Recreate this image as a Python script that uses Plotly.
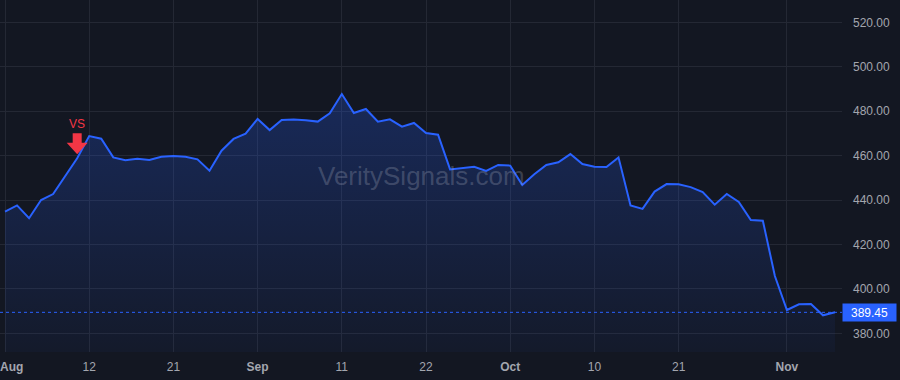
import pandas as pd
import plotly.graph_objects as go

# ---- data ----
dates = [d.strftime("%Y-%m-%d") for d in pd.bdate_range("2025-08-01", "2025-11-07")
         if d.strftime("%Y-%m-%d") != "2025-09-01"]  # trading days (Labor Day closed)

closes = [
    434.8, 437.6, 431.8, 440.0, 442.7, 451.0, 458.8, 468.8, 467.6, 459.2,
    457.9, 458.6, 458.0, 459.5, 459.8, 459.5, 458.3, 453.2, 462.2, 467.5,
    469.9, 476.5, 471.5, 476.0, 476.3, 475.9, 475.3, 479.0, 487.7, 479.2,
    481.0, 475.3, 476.3, 473.0, 474.7, 470.2, 469.4, 453.8, 454.3, 455.0,
    453.1, 455.8, 455.5, 446.8, 451.6, 455.8, 457.0, 460.7, 456.2, 455.0,
    454.9, 459.2, 437.6, 436.0, 443.8, 447.2, 447.1, 445.8, 443.6, 437.9,
    442.7, 439.1, 431.0, 430.7, 405.8, 390.5, 393.1, 393.2, 388.1, 389.45,
]

x_tick_dates = ["2025-08-01", "2025-08-12", "2025-08-21", "2025-09-02", "2025-09-11",
                "2025-09-22", "2025-10-01", "2025-10-10", "2025-10-21", "2025-11-03"]
x_tick_text = ["\u00a0\u00a0\u00a0\u00a0<b>Aug</b>", "12", "21", "<b>Sep</b>", "11",
               "22", "<b>Oct</b>", "10", "21", "<b>Nov</b>"]

y_ticks = [380, 400, 420, 440, 460, 480, 500, 520]

signal_date = "2025-08-11"
signal_label = "VS"
last_price = closes[-1]
watermark = "VeritySignals.com"

# ---- styling ----
BG = "#131722"
GRID = "#242834"
LINE = "#2962ff"
TXT = "#a3a6af"
RED = "#f23645"
FONT = "Liberation Sans, Arial, sans-serif"

signal_value = closes[dates.index(signal_date)]

fig = go.Figure()
fig.add_trace(go.Scatter(
    x=dates, y=closes, mode="lines",
    line=dict(color=LINE, width=2),
    fill="tozeroy",
    fillgradient=dict(type="vertical", start=371.6, stop=max(closes),
                      colorscale=[[0, "rgba(41,98,255,0.04)"], [1, "rgba(41,98,255,0.25)"]]),
    hoverinfo="skip", showlegend=False,
))

fig.update_layout(
    width=900, height=380,
    margin=dict(l=0, r=58, t=0, b=28, autoexpand=False),
    paper_bgcolor=BG, plot_bgcolor=BG,
    font=dict(family=FONT, size=12, color=TXT),
    showlegend=False,
    xaxis=dict(
        type="category", range=[-0.416, 69.58], automargin=False,
        tickmode="array", tickvals=x_tick_dates, ticktext=x_tick_text,
        showgrid=True, gridcolor=GRID, gridwidth=1,
        zeroline=False, showline=False, ticks="",
        ticklabelstandoff=6, tickfont=dict(size=12, color=TXT),
    ),
    yaxis=dict(
        side="right", range=[371.6, 530.04], automargin=False,
        tickmode="array", tickvals=y_ticks, tickformat=".2f",
        showgrid=True, gridcolor=GRID, gridwidth=1,
        zeroline=False, showline=False, ticks="",
        ticklabelstandoff=10, tickfont=dict(size=12, color=TXT),
    ),
)

# last price dotted line
fig.add_shape(type="line", xref="paper", x0=0, x1=1, yref="y", y0=last_price, y1=last_price,
              line=dict(color=LINE, width=1, dash="3px,3px"), layer="above")

# last price label
fig.add_annotation(x=1, xref="paper", xanchor="left", y=last_price, yref="y", yanchor="middle",
                   text=f"{last_price:.2f}", showarrow=False, bgcolor=LINE,
                   font=dict(color="#ffffff", size=12, family=FONT),
                   width=49, height=13, borderpad=2, align="center")

# signal arrow
fig.add_shape(type="path", xref="x", yref="y", xsizemode="pixel", ysizemode="pixel",
              xanchor=signal_date, yanchor=signal_value,
              path="M -4.5,25 L 4.5,25 L 4.5,15.5 L 10.5,15.5 L 0,4 L -10.5,15.5 L -4.5,15.5 Z",
              fillcolor=RED, line=dict(width=0), layer="above")
fig.add_annotation(x=signal_date, y=signal_value, yshift=34, text=signal_label, showarrow=False,
                   font=dict(color=RED, size=12, family=FONT), yanchor="middle")

# watermark
fig.add_annotation(x=0.5, y=0.5, xref="paper", yref="paper", text=watermark, showarrow=False,
                   font=dict(size=26, color="rgba(160,166,185,0.3)", family=FONT))

fig.write_html("out.html")
